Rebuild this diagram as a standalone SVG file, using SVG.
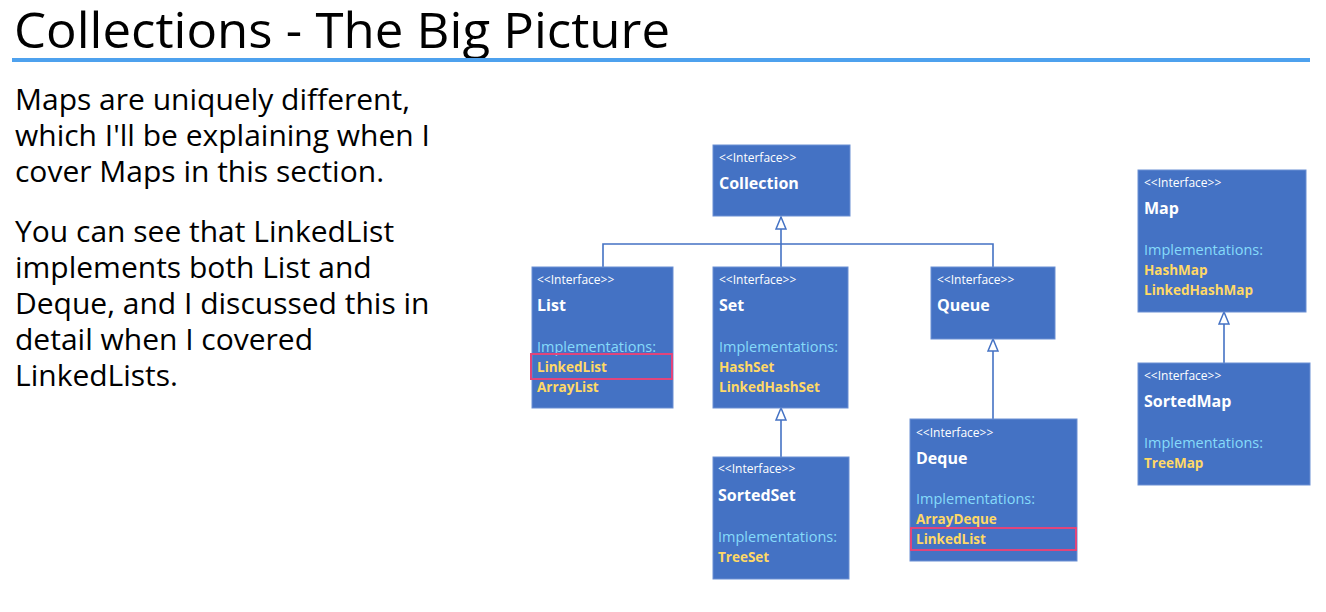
<svg xmlns="http://www.w3.org/2000/svg" width="1326" height="612" viewBox="0 0 1326 612">
  <defs>
    <!-- hollow triangle used for "extends" relations -->
    <marker id="inherit" viewBox="0 0 14 12" refX="13" refY="6" markerWidth="14" markerHeight="12" markerUnits="userSpaceOnUse" orient="auto">
      <path d="M1 1 L13 6 L1 11 Z" fill="#ffffff" stroke="#4472c4" stroke-width="1.5"/>
    </marker>
  </defs>
  <style>
    .box { fill: #4472c4; stroke: #6b8fd3; stroke-width: 1; }
    .stereo { font-family: "Open Sans", "Liberation Sans", sans-serif; font-size: 12px; fill: #ffffff; }
    .name { font-family: "Open Sans", "Liberation Sans", sans-serif; font-size: 16px; font-weight: bold; fill: #ffffff; }
    .impl { font-family: "Open Sans", "Liberation Sans", sans-serif; font-size: 14.5px; fill: #86dbfa; }
    .cls { font-family: "Open Sans", "Liberation Sans", sans-serif; font-size: 13.5px; font-weight: bold; fill: #ffd966; }
    .hl { fill: none; stroke: #e0457b; stroke-width: 2; }
    .edge { fill: none; stroke: #4472c4; stroke-width: 1.6; }
    .title { font-family: "Open Sans", "Liberation Sans", sans-serif; font-size: 50px; fill: #000000; }
    .body { font-family: "Open Sans", "Liberation Sans", sans-serif; font-size: 30px; fill: #000000; }
  </style>

  <rect x="0" y="0" width="1326" height="612" fill="#ffffff"/>

  <!-- heading -->
  <text class="title" x="14" y="48" textLength="656" lengthAdjust="spacingAndGlyphs">Collections - The Big Picture</text>
  <rect x="12" y="58" width="1298" height="4" fill="#4ea1ee"/>

  <!-- explanatory text -->
  <text class="body" x="15" y="110">Maps are uniquely different,</text>
  <text class="body" x="15" y="146">which I'll be explaining when I</text>
  <text class="body" x="15" y="182">cover Maps in this section.</text>
  <text class="body" x="15" y="242">You can see that LinkedList</text>
  <text class="body" x="15" y="278">implements both List and</text>
  <text class="body" x="15" y="314">Deque, and I discussed this in</text>
  <text class="body" x="15" y="350">detail when I covered</text>
  <text class="body" x="15" y="386">LinkedLists.</text>

  <!-- inheritance connectors -->
  <g id="connectors">
    <path class="edge" d="M603 267 V244 H993 V267"/>
    <path class="edge" d="M781 267 V217" marker-end="url(#inherit)"/>
    <path class="edge" d="M781 457 V408" marker-end="url(#inherit)"/>
    <path class="edge" d="M993 419 V339" marker-end="url(#inherit)"/>
    <path class="edge" d="M1224 363 V312" marker-end="url(#inherit)"/>
  </g>

  <g id="collection">
    <rect class="box" x="713" y="145" width="137" height="71"/>
    <text class="stereo" x="719" y="162">&lt;&lt;Interface&gt;&gt;</text>
    <text class="name" x="719" y="189">Collection</text>
  </g>

  <g id="list">
    <rect class="box" x="532" y="267" width="141" height="141"/>
    <text class="stereo" x="537" y="284">&lt;&lt;Interface&gt;&gt;</text>
    <text class="name" x="537" y="311">List</text>
    <text class="impl" x="537" y="352">Implementations:</text>
    <text class="cls" x="537" y="372">LinkedList</text>
    <text class="cls" x="537" y="392">ArrayList</text>
    <rect class="hl" x="531" y="354" width="141" height="25"/>
  </g>

  <g id="set">
    <rect class="box" x="713" y="267" width="135" height="141"/>
    <text class="stereo" x="719" y="284">&lt;&lt;Interface&gt;&gt;</text>
    <text class="name" x="719" y="311">Set</text>
    <text class="impl" x="719" y="352">Implementations:</text>
    <text class="cls" x="719" y="372">HashSet</text>
    <text class="cls" x="719" y="392">LinkedHashSet</text>
  </g>

  <g id="queue">
    <rect class="box" x="931" y="267" width="124" height="72"/>
    <text class="stereo" x="937" y="284">&lt;&lt;Interface&gt;&gt;</text>
    <text class="name" x="937" y="311">Queue</text>
  </g>

  <g id="sortedset">
    <rect class="box" x="713" y="457" width="136" height="122"/>
    <text class="stereo" x="718" y="473">&lt;&lt;Interface&gt;&gt;</text>
    <text class="name" x="718" y="501">SortedSet</text>
    <text class="impl" x="718" y="542">Implementations:</text>
    <text class="cls" x="718" y="562">TreeSet</text>
  </g>

  <g id="deque">
    <rect class="box" x="910" y="419" width="167" height="142"/>
    <text class="stereo" x="916" y="437">&lt;&lt;Interface&gt;&gt;</text>
    <text class="name" x="916" y="464">Deque</text>
    <text class="impl" x="916" y="504">Implementations:</text>
    <text class="cls" x="916" y="524">ArrayDeque</text>
    <text class="cls" x="916" y="544">LinkedList</text>
    <rect class="hl" x="911" y="528" width="165" height="22"/>
  </g>

  <g id="map">
    <rect class="box" x="1138" y="170" width="168" height="142"/>
    <text class="stereo" x="1144" y="187">&lt;&lt;Interface&gt;&gt;</text>
    <text class="name" x="1144" y="214">Map</text>
    <text class="impl" x="1144" y="255">Implementations:</text>
    <text class="cls" x="1144" y="275">HashMap</text>
    <text class="cls" x="1144" y="295">LinkedHashMap</text>
  </g>

  <g id="sortedmap">
    <rect class="box" x="1138" y="363" width="172" height="122"/>
    <text class="stereo" x="1144" y="380">&lt;&lt;Interface&gt;&gt;</text>
    <text class="name" x="1144" y="407">SortedMap</text>
    <text class="impl" x="1144" y="448">Implementations:</text>
    <text class="cls" x="1144" y="468">TreeMap</text>
  </g>
</svg>
